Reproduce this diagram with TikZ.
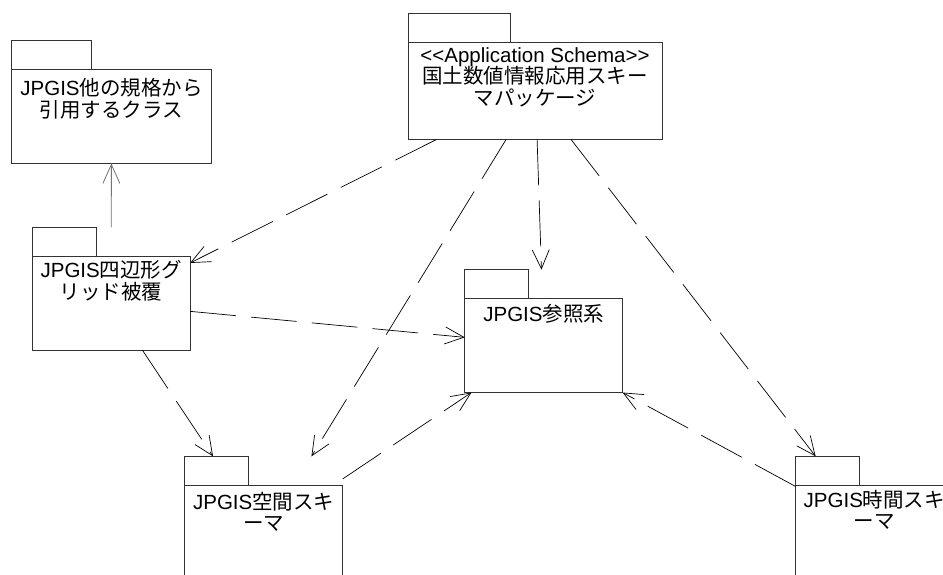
\documentclass[tikz,border=0pt]{standalone}
\usepackage{fontspec}
\newfontfamily\latinfont{Liberation Sans}
\newfontfamily\jpfont{Noto Sans CJK JP}
\newcommand{\jp}[1]{{\jpfont #1}}
\usepackage{tikz}
\usetikzlibrary{arrows.meta,positioning}

\begin{document}
\begin{tikzpicture}[x=1pt, y=1pt, >={Straight Barb[length=19pt,width=17pt]},
	font=\latinfont\fontsize{20.5}{21.5}\selectfont]

	\tikzstyle{pkg}=[rectangle, minimum width=157.5pt, minimum height=122.5pt, inner sep=0pt]
	\tikzstyle{box}=[draw=black!80, line width=0.8pt]
	\tikzstyle{title}=[anchor=north, align=center, inner sep=0pt, execute at begin node=\rule{0pt}{17pt}]
	\tikzstyle{dep}=[->, line width=0.7pt, dash pattern=on 46pt off 15pt]
	\tikzstyle{uses}=[->, line width=0.8pt, draw=black!55]
	\useasboundingbox (0,0) rectangle (943,574);

	\node[pkg, minimum width=199pt, minimum height=122.6pt] (other) at (111.5,472) {};
	\node[pkg, minimum width=253.4pt, minimum height=125.6pt] (app) at (535,497.5) {};
	\node[pkg] (quad) at (111.2,285.2) {};
	\node[pkg] (ref) at (543.7,242.9) {};
	\node[pkg] (spa) at (263.7,56.2) {};
	\node[pkg] (tmp) at (874.3,56.2) {};

	% tab and body of each package
	\foreach \p/\w in {other/80, app/102, quad/64, ref/64, spa/64, tmp/64} {
		\draw[box] (\p.north west) rectangle ++(\w,-28.6);
		\draw[box] ([yshift=-28.6pt]\p.north west) rectangle (\p.south east);
	}

	\node[title, below=38pt of other.north] (other-t) {JPGIS\jp{他の規格から}\\\jp{引用するクラス}};
	\node[title, below=33.6pt of app.north] (app-t) {<<Application Schema>>\\\jp{国土数値情報応用スキー}\\\jp{マパッケージ}};
	\node[title, below=33pt of quad.north] (quad-t) {JPGIS\jp{四辺形グ}\\\jp{リッド被覆}};
	\node[title, below=34pt of ref.north] (ref-t) {JPGIS\jp{参照系}};
	\node[title, below=35.6pt of spa.north] (spa-t) {JPGIS\jp{空間スキ}\\\jp{ーマ}};
	\node[title, below=33.6pt of tmp.north] (tmp-t) {JPGIS\jp{時間スキ}\\\jp{ーマ}};

	% From quad to everyone
	\path (quad) edge[uses] (other);
	\path ([yshift=-84pt]quad.north east) edge[dep] ([yshift=-67.7pt]ref.north west);
	\path ([xshift=110.2pt]quad.south west) edge[dep] ([xshift=28.3pt]spa.north west);

	% From app to everyone
	\path ([xshift=28.4pt]app.south west) edge[dep] ([yshift=-35.6pt]quad.north east);
	\path ([xshift=98pt]app.south west) edge[dep] ([xshift=126.7pt]spa.north west);
	\path ([xshift=129pt]app.south west) edge[dep] ([xshift=76.7pt]ref.north west);
	\path ([xshift=163pt]app.south west) edge[dep] ([xshift=20.3pt]tmp.north west);

	% From spa and tmp to ref
	\path ([yshift=-22.6pt]spa.north east) edge[dep] ([xshift=6.7pt]ref.south west);
	\path ([yshift=-30pt]tmp.north west) edge[dep] (ref.south east);

\end{tikzpicture}
\end{document}
